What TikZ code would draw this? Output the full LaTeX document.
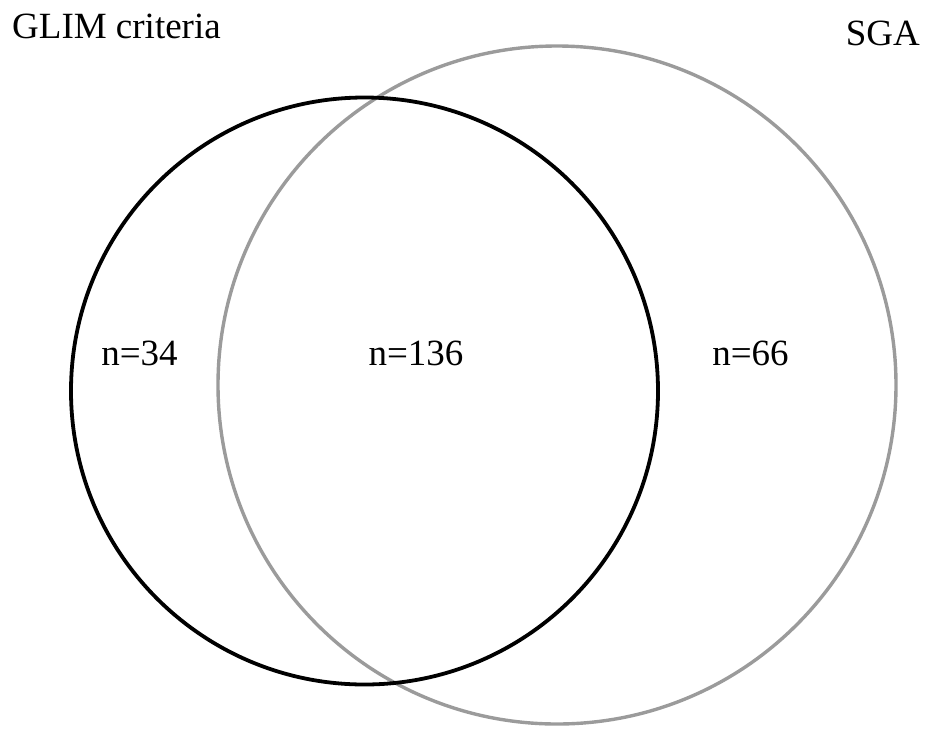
\documentclass[tikz,border=0pt]{standalone}
\usepackage{fontspec}
\setmainfont{Liberation Serif}
\definecolor{sgagray}{RGB}{155,155,155}
\begin{document}
\begin{tikzpicture}[x=1pt,y=-1pt,
  lbl/.style={inner sep=0pt,font=\fontsize{37}{40}\selectfont,anchor=base},
  glimc/.style={draw=black,line width=3.8pt},
  sgac/.style={draw=sgagray,line width=3.4pt}]
\useasboundingbox (0,0) rectangle (926,729);
\draw[sgac] (557,385) circle[radius=339];
\draw[glimc] (364.5,391) circle[radius=293.5];
\node[lbl,anchor=base west] (glim) at (12,38) {GLIM criteria};
\node[lbl,anchor=base east] (sga) at (920,45) {SGA};
\node[lbl] (a) at (139.5,365) {n=34};
\node[lbl] (b) at (416,365) {n=136};
\node[lbl] (c) at (750.5,365) {n=66};
\end{tikzpicture}
\end{document}
